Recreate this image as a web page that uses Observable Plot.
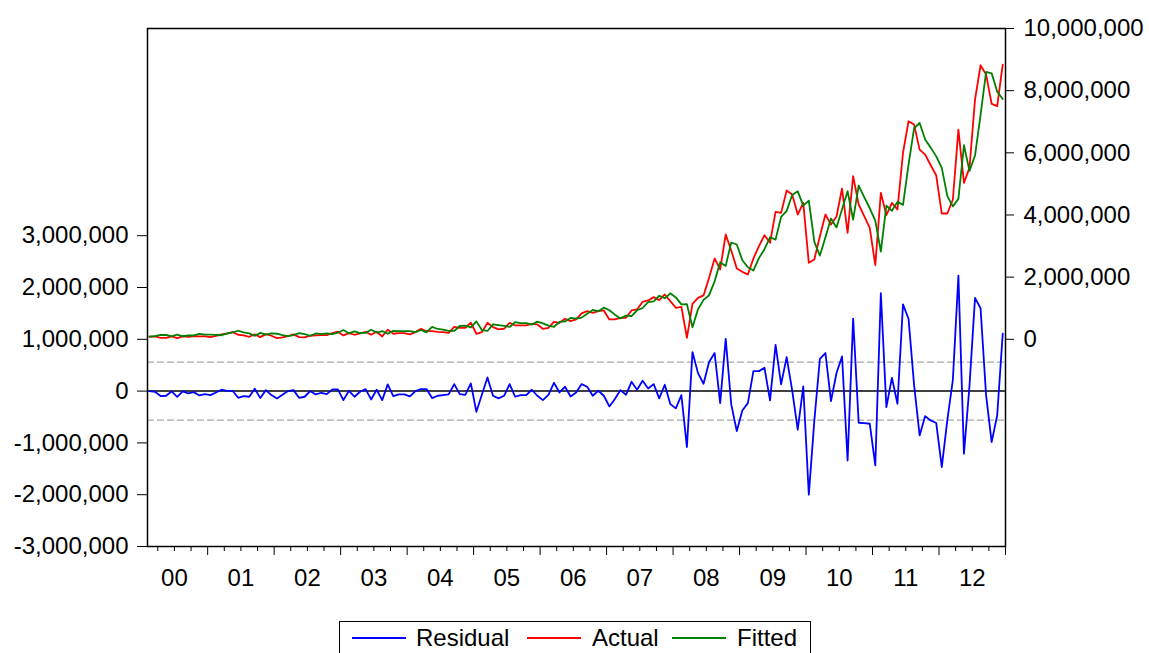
<!DOCTYPE html>
<html><head><meta charset="utf-8">
<script src="https://cdn.jsdelivr.net/npm/d3@7"></script>
<script src="https://cdn.jsdelivr.net/npm/@observablehq/plot@0.6"></script>
<style>
body{margin:0;background:#fff;font-family:"Liberation Sans",Arial,sans-serif;}
#wrap{position:relative;width:1149px;height:653px;overflow:hidden;background:#fff;}
#wrap svg{position:absolute;left:0;top:0;background:transparent;}
#legend{position:absolute;left:339px;top:621px;width:470px;height:40px;border:1px solid #000;font-size:24px;line-height:24px;color:#000;background:#fff;}
#legend .ln{position:absolute;top:15px;height:2px;width:54px;}
#legend .tx{position:absolute;top:4px;white-space:nowrap;}
</style></head>
<body><div id="wrap"></div>
<script>
// first observation: 2000M02, monthly to 2012M12
const startYear = 2000, startMonth = 2;

// values in millions
const actual = [
0.081,0.092,0.049,0.049,0.092,0.038,0.092,0.081,0.103,0.092,
0.092,0.071,0.114,0.157,0.189,0.232,0.146,0.124,0.081,0.157,
0.071,0.167,0.114,0.038,0.060,0.103,0.157,0.071,0.060,0.114,
0.124,0.135,0.135,0.200,0.243,0.124,0.200,0.146,0.189,0.243,
0.146,0.243,0.092,0.307,0.178,0.200,0.200,0.157,0.232,0.339,
0.260,0.264,0.242,0.232,0.210,0.403,0.371,0.371,0.532,0.178,
0.232,0.532,0.392,0.317,0.339,0.532,0.446,0.446,0.446,0.499,
0.478,0.339,0.371,0.564,0.532,0.660,0.585,0.639,0.832,0.907,
0.853,0.907,0.929,0.639,0.639,0.692,0.692,0.929,0.960,1.207,
1.250,1.357,1.260,1.443,1.228,1.014,1.046,0.049,1.142,1.335,
1.411,1.979,2.600,2.247,3.372,2.857,2.279,2.171,2.086,2.600,
2.997,3.350,3.104,4.101,4.068,4.787,4.658,4.015,4.390,2.461,
2.568,3.318,4.015,3.694,3.950,4.851,3.425,5.248,4.337,3.961,
3.586,2.386,4.711,3.994,4.390,4.176,5.998,7.016,6.908,6.104,
5.944,5.601,5.269,4.047,4.047,4.497,6.748,5.033,5.516,7.713,
8.817,8.517,7.574,7.500,8.838];

const fitted = [
0.090,0.105,0.145,0.139,0.098,0.148,0.098,0.126,0.123,0.176,
0.150,0.148,0.140,0.131,0.183,0.226,0.275,0.220,0.190,0.112,
0.206,0.148,0.191,0.179,0.131,0.103,0.138,0.200,0.169,0.114,
0.188,0.167,0.193,0.168,0.211,0.298,0.194,0.255,0.202,0.204,
0.307,0.217,0.266,0.178,0.274,0.264,0.264,0.260,0.232,0.300,
0.221,0.399,0.332,0.309,0.274,0.268,0.429,0.442,0.384,0.577,
0.296,0.268,0.482,0.458,0.429,0.397,0.555,0.523,0.523,0.473,
0.568,0.513,0.442,0.403,0.558,0.576,0.688,0.665,0.697,0.823,
0.943,0.901,1.019,0.935,0.793,0.673,0.763,0.749,0.934,1.007,
1.199,1.222,1.401,1.321,1.479,1.348,1.123,1.129,0.389,0.967,
1.269,1.419,1.866,2.479,2.362,3.114,3.051,2.544,2.318,2.214,
2.611,2.900,3.284,3.207,3.939,4.131,4.645,4.761,4.300,4.461,
3.134,2.694,3.281,3.887,3.600,4.182,4.765,3.848,4.948,4.578,
4.216,3.821,2.821,4.303,4.133,4.421,4.325,5.620,6.790,6.960,
6.427,6.167,5.886,5.514,4.607,4.278,4.518,6.243,5.420,5.913,
7.217,8.601,8.559,7.970,7.731];

const residual = [
0.000,-0.013,-0.096,-0.090,-0.006,-0.110,-0.006,-0.045,-0.020,-0.084,
-0.058,-0.077,-0.026,0.026,0.006,0.006,-0.129,-0.096,-0.109,0.045,
-0.135,0.019,-0.077,-0.141,-0.071,0.000,0.019,-0.129,-0.109,0.000,
-0.064,-0.032,-0.058,0.032,0.032,-0.174,0.006,-0.109,-0.013,0.039,
-0.161,0.026,-0.174,0.129,-0.096,-0.064,-0.064,-0.103,0.000,0.039,
0.039,-0.135,-0.090,-0.077,-0.064,0.135,-0.058,-0.071,0.148,-0.399,
-0.064,0.264,-0.090,-0.141,-0.090,0.135,-0.109,-0.077,-0.077,0.026,
-0.090,-0.174,-0.071,0.161,-0.026,0.084,-0.103,-0.026,0.135,0.084,
-0.090,0.006,-0.090,-0.296,-0.154,0.019,-0.071,0.180,0.026,0.200,
0.051,0.135,-0.141,0.122,-0.251,-0.334,-0.077,-1.080,0.753,0.347,
0.142,0.560,0.734,-0.232,1.010,-0.257,-0.772,-0.373,-0.232,0.386,
0.386,0.450,-0.180,0.894,0.129,0.656,0.013,-0.746,0.090,-2.000,
-0.566,0.624,0.734,-0.193,0.350,0.669,-1.340,1.400,-0.611,-0.617,
-0.630,-1.435,1.890,-0.309,0.257,-0.245,1.673,1.396,0.120,-0.856,
-0.483,-0.566,-0.617,-1.467,-0.560,0.219,2.230,-1.210,0.100,1.800,
1.600,-0.084,-0.985,-0.470,1.107];

const residualSD = 0.56; // millions, dashed band
const leftTicks = [-3e6,-2e6,-1e6,0,1e6,2e6,3e6];
const rightTicks = [0,2e6,4e6,6e6,8e6,1e7];
const yearLabels = ["00","01","02","03","04","05","06","07","08","09","10","11","12"];
const seriesNames = ["Residual","Actual","Fitted"];
const seriesColors = ["#0000ff","#ff0000","#008000"];

// time (decimal year, mid-month)
const timeOf = i => startYear + (startMonth - 1 + i + 0.5) / 12;
const rows = actual.map((a, i) => ({
  t: timeOf(i), actual: a * 1e6, fitted: fitted[i] * 1e6, residual: residual[i] * 1e6
}));

const years = yearLabels.map((s, i) => startYear + i);
const majorTicks = years.map(y => y + 1);
const minorTicks = years.flatMap(y => [y + 0.25, y + 0.5, y + 0.75]);
const labelTicks = years.map(y => y + 0.5);

const W = 1149, H = 616;
const common = {
  width: W, height: H, marginLeft: 147, marginRight: 144, marginTop: 28, marginBottom: 70,
  style: {fontSize: "24px", fontFamily: "'Liberation Sans', Arial, sans-serif", color: "#000", background: "transparent", overflow: "visible"}
};
const xDomain = [2000.095, 2013];
const comma = d3.format(",");
const fmt = d => comma(d).replace("\u2212", "-");

const p1 = Plot.plot({
  ...common,
  x: {domain: xDomain},
  y: {domain: [-3e6, 7e6]},
  marks: [
    Plot.ruleY([-residualSD * 1e6, residualSD * 1e6], {stroke: "#a8a8a8", strokeWidth: 1.2, strokeDasharray: "7,3"}),
    Plot.ruleY([0], {stroke: "#000", strokeWidth: 1.5}),
    Plot.line(rows, {x: "t", y: "residual", stroke: seriesColors[0], strokeWidth: 1.8}),
    Plot.axisY(leftTicks, {anchor: "left", label: null, tickSize: 10, tickPadding: 9, tickFormat: fmt}),
    Plot.axisX(majorTicks, {anchor: "bottom", label: null, tickSize: 9, tickFormat: () => ""}),
    Plot.axisX(minorTicks, {anchor: "bottom", label: null, tickSize: 5, tickFormat: () => ""}),
    Plot.axisX(labelTicks, {anchor: "bottom", label: null, tickSize: 0, tickPadding: 22, tickFormat: d => yearLabels[Math.floor(d) - startYear]}),
    Plot.frame({stroke: "#000", strokeWidth: 1.5})
  ]
});

const p2 = Plot.plot({
  ...common,
  x: {domain: xDomain, axis: null},
  y: {domain: [-1e7 * 2 / 3, 1e7]},
  marks: [
    Plot.line(rows, {x: "t", y: "actual", stroke: seriesColors[1], strokeWidth: 1.8}),
    Plot.line(rows, {x: "t", y: "fitted", stroke: seriesColors[2], strokeWidth: 1.8}),
    Plot.axisY(rightTicks, {anchor: "right", label: null, tickSize: 8, tickPadding: 10, tickFormat: fmt})
  ]
});

const wrap = document.getElementById("wrap");
wrap.appendChild(p1);
wrap.appendChild(p2);

// legend
const lg = document.createElement("div");
lg.id = "legend";
const lineLeft = [12, 187, 332], textLeft = [76, 252, 397];
seriesNames.forEach((n, i) => {
  const l = document.createElement("div");
  l.className = "ln"; l.style.left = lineLeft[i] + "px"; l.style.background = seriesColors[i];
  const t = document.createElement("div");
  t.className = "tx"; t.style.left = textLeft[i] + "px"; t.textContent = n;
  lg.appendChild(l); lg.appendChild(t);
});
wrap.appendChild(lg);
</script>
</body></html>
